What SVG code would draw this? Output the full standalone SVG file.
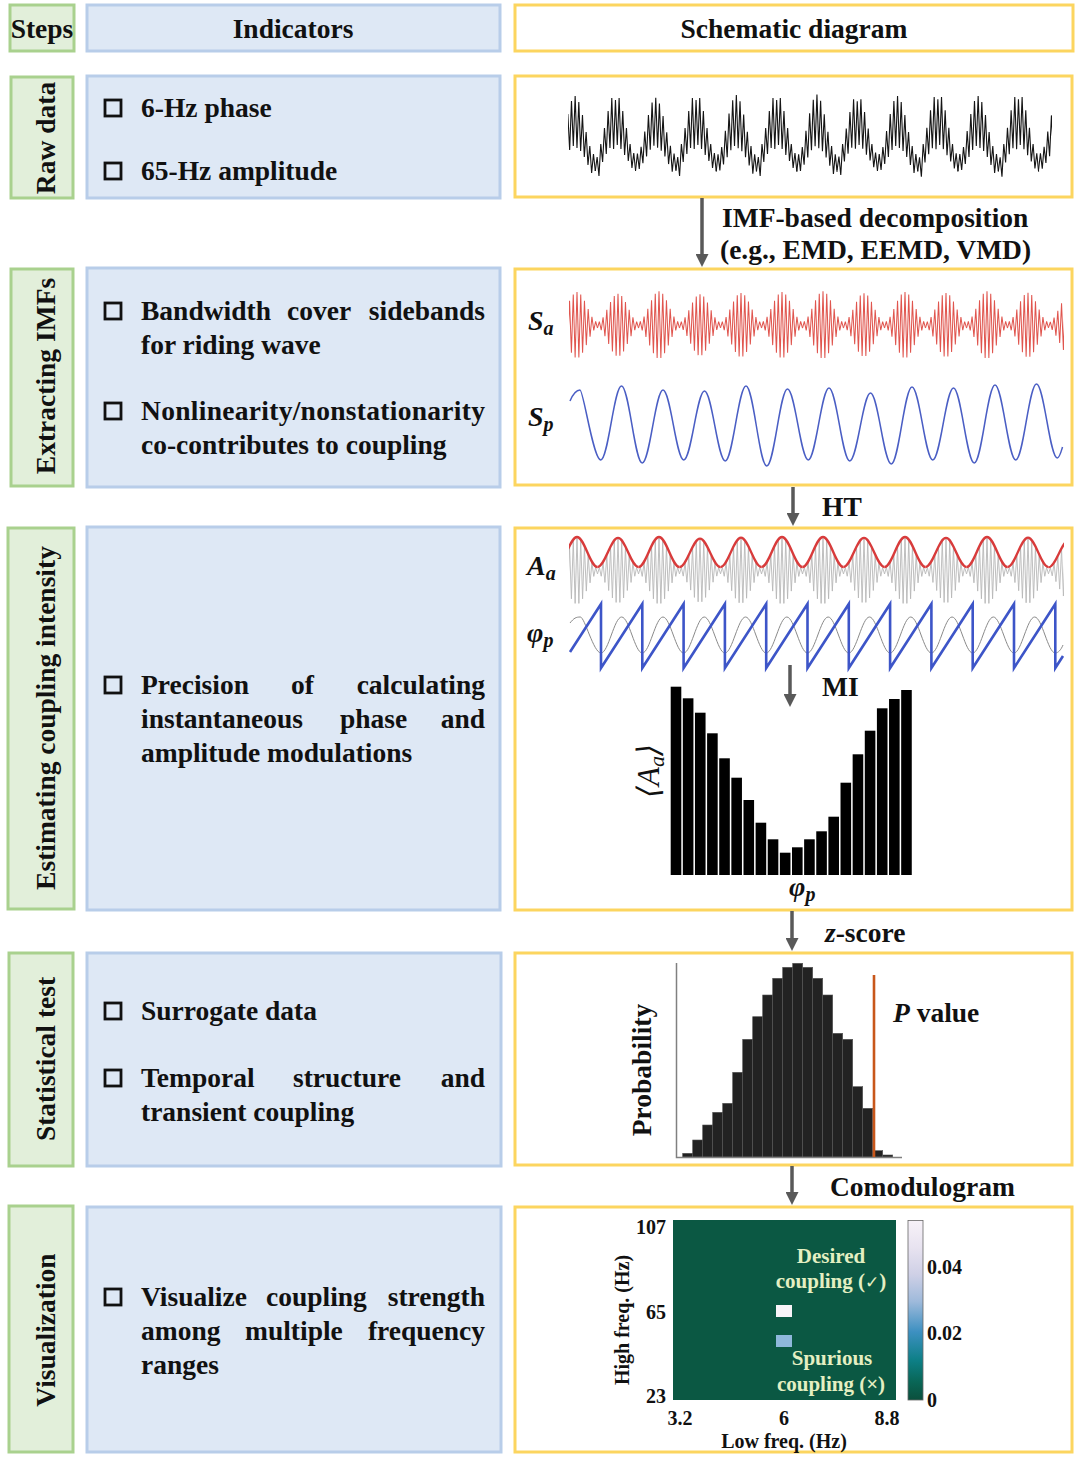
<svg xmlns="http://www.w3.org/2000/svg" width="1080" height="1457" viewBox="0 0 1080 1457">
<defs>
<style>
.g{fill:#e2efda;stroke:#a9d18e;stroke-width:3}
.b{fill:#dee8f5;stroke:#b8cde9;stroke-width:3}
.y{fill:#fff;stroke:#fcd55f;stroke-width:3}
.t{font-family:"Liberation Serif","Times New Roman",serif;font-weight:bold;font-size:27.5px;fill:#111}
.m{font-family:"Liberation Serif","Times New Roman","DejaVu Serif",serif;font-weight:bold;font-style:italic;font-size:28px;fill:#111}
.c{font-family:"Liberation Serif","Times New Roman",serif;font-weight:bold;font-size:20px;fill:#111}
.h{font-family:"Liberation Serif","Times New Roman","DejaVu Sans",serif;font-weight:bold;font-size:21px;fill:#e4efc2}
.k{fill:none;stroke:#111;stroke-width:2.8}
.ar{stroke:#595959;stroke-width:3.5;fill:none;marker-end:url(#ah)}
</style>
<marker id="ah" viewBox="0 0 13 13" refX="3" refY="6.5" markerWidth="13" markerHeight="13" markerUnits="userSpaceOnUse" orient="auto"><path d="M0,0 L13,6.5 L0,13 z" fill="#595959"/></marker>
<path id="rawA" d="M0,29 L1.82,12 3.64,28 5.45,5 7.27,22 9.09,-11 10.91,15 12.73,-28 14.55,8 16.36,-41 18.18,4 20,-46 21.82,6 23.64,-40 25.45,9 27.27,-27 29.09,15 30.91,-10 32.73,23 34.55,4 36.36,31 38.18,12 40,29"/>
<path id="rawB" d="M0,29 L1.82,15 3.64,34 5.45,2 7.27,20 9.09,-14 10.91,12 12.73,-31 14.55,6 16.36,-44 18.18,7 20,-42 21.82,3 23.64,-44 25.45,7 27.27,-31 29.09,13 30.91,-14 32.73,19 34.55,2 36.36,26 38.18,11 40,29"/>
<path id="sa" d="M0,3 L1.82,-3.6 3.64,5.4 5.45,-8.2 7.27,11.8 9.09,-15.9 10.91,20.1 12.73,-24.2 14.55,27.8 16.36,-30.6 18.18,32.4 20,-33 21.82,32.4 23.64,-30.6 25.45,27.8 27.27,-24.2 29.09,20.1 30.91,-15.9 32.73,11.8 34.55,-8.2 36.36,5.4 38.18,-3.6 40,3"/>
<path id="env" d="M0,-3 C7.2,-3 12.8,-33 20,-33 S32.8,-3 40,-3"/>
<clipPath id="cRaw"><rect x="568" y="80" width="484" height="115"/></clipPath>
<clipPath id="cSa"><rect x="569" y="285" width="495" height="80"/></clipPath>
<clipPath id="cAa"><rect x="569" y="528" width="495" height="82"/></clipPath>
<linearGradient id="cbar" x1="0" y1="0" x2="0" y2="1">
<stop offset="0" stop-color="#f7f2f8"/>
<stop offset="0.15" stop-color="#e8e3f0"/>
<stop offset="0.3" stop-color="#cfd0e6"/>
<stop offset="0.45" stop-color="#9fbadb"/>
<stop offset="0.62" stop-color="#3d90c1"/>
<stop offset="0.78" stop-color="#0d7f86"/>
<stop offset="0.9" stop-color="#096656"/>
<stop offset="1" stop-color="#0b4f3c"/>
</linearGradient>
</defs>
<rect width="1080" height="1457" fill="#fff"/>

<!-- header -->
<g id="hdr-steps"><rect class="g" x="10" y="5" width="64" height="46"/><text class="t" x="42" y="38" text-anchor="middle">Steps</text></g>
<g id="hdr-indicators"><rect class="b" x="87" y="5" width="413" height="46"/><text class="t" x="293" y="38" text-anchor="middle">Indicators</text></g>
<g id="hdr-schematic"><rect class="y" x="515" y="5" width="558" height="46"/><text class="t" x="794" y="38" text-anchor="middle">Schematic diagram</text></g>

<!-- row 1 -->
<g id="step-raw"><rect class="g" x="11" y="77" width="62" height="121"/><text class="t" transform="translate(55 138) rotate(-90)" text-anchor="middle">Raw data</text></g>
<g id="ind-raw"><rect class="b" x="87" y="76" width="413" height="122"/>
<rect class="k" x="105" y="100" width="16" height="16"/><text class="t" x="141" y="117">6-Hz phase</text>
<rect class="k" x="105" y="163" width="16" height="16"/><text class="t" x="141" y="180">65-Hz amplitude</text></g>
<g id="sch-raw"><rect class="y" x="515" y="76" width="557" height="121"/>
<g fill="none" stroke="#151515" stroke-width="1.1" clip-path="url(#cRaw)">
<use href="#rawA" transform="translate(555 142) scale(1.0075 1)"/>
<use href="#rawB" transform="translate(595.3 142) scale(1.0075 1)"/>
<use href="#rawA" transform="translate(635.6 142) scale(1.0075 0.96)"/>
<use href="#rawB" transform="translate(675.9 142) scale(1.0075 1)"/>
<use href="#rawA" transform="translate(716.2 142) scale(1.0075 1.02)"/>
<use href="#rawB" transform="translate(756.5 142) scale(1.0075 1)"/>
<use href="#rawA" transform="translate(796.8 142) scale(1.0075 1.03)"/>
<use href="#rawB" transform="translate(837.1 142) scale(1.0075 0.97)"/>
<use href="#rawA" transform="translate(877.4 142) scale(1.0075 1)"/>
<use href="#rawB" transform="translate(917.7 142) scale(1.0075 1.02)"/>
<use href="#rawA" transform="translate(958 142) scale(1.0075 1)"/>
<use href="#rawB" transform="translate(998.3 142) scale(1.0075 1.02)"/>
<use href="#rawA" transform="translate(1038.6 142) scale(1.0075 0.95)"/>
</g></g>

<!-- row 2 -->
<g id="step-imf"><rect class="g" x="11" y="269" width="62" height="217"/><text class="t" transform="translate(55 376) rotate(-90)" text-anchor="middle">Extracting IMFs</text></g>
<g id="ind-imf"><rect class="b" x="87" y="268" width="413" height="219"/>
<rect class="k" x="105" y="303" width="16" height="16"/>
<text class="t" x="141" y="320">Bandwidth</text><text class="t" x="287" y="320">cover</text><text class="t" x="485" y="320" text-anchor="end">sidebands</text>
<text class="t" x="141" y="354">for riding wave</text>
<rect class="k" x="105" y="403" width="16" height="16"/>
<text class="t" x="141" y="420" textLength="344" lengthAdjust="spacing">Nonlinearity/nonstationarity</text>
<text class="t" x="141" y="454">co-contributes to coupling</text></g>
<g id="sch-imf"><rect class="y" x="515" y="269" width="557" height="216"/>
<text class="m" x="528" y="330">S<tspan font-size="20" dy="5">a</tspan></text>
<text class="m" x="528" y="426">S<tspan font-size="20" dy="5">p</tspan></text>
<g fill="none" stroke="#e0554e" stroke-width="1" clip-path="url(#cSa)">
<use href="#sa" transform="translate(556.5 325) scale(1.025 1)"/>
<use href="#sa" transform="translate(597.5 325) scale(1.025 0.95)"/>
<use href="#sa" transform="translate(638.5 325) scale(1.025 1.02)"/>
<use href="#sa" transform="translate(679.5 325) scale(1.025 0.93)"/>
<use href="#sa" transform="translate(720.5 325) scale(1.025 0.97)"/>
<use href="#sa" transform="translate(761.5 325) scale(1.025 1)"/>
<use href="#sa" transform="translate(802.5 325) scale(1.025 1.02)"/>
<use href="#sa" transform="translate(843.5 325) scale(1.025 0.96)"/>
<use href="#sa" transform="translate(884.5 325) scale(1.025 1)"/>
<use href="#sa" transform="translate(925.5 325) scale(1.025 0.97)"/>
<use href="#sa" transform="translate(966.5 325) scale(1.025 1.02)"/>
<use href="#sa" transform="translate(1007.5 325) scale(1.025 0.98)"/>
<use href="#sa" transform="translate(1048.5 325) scale(1.025 0.9)"/>
</g>
<path fill="none" stroke="#4a5ec4" stroke-width="1.5" d="M570,401 C573,394 576.5,390 580,390 S593.25,460 600.75,460 S614,386 621.5,386 S634.75,463 642.25,463 S655.5,390 663,390 S676.25,460 683.75,460 S697,391 704.5,391 S717.75,461 725.25,461 S738.5,386 746,386 S759.25,466 766.75,466 S780,389 787.5,389 S800.75,460 808.25,460 S821.5,388 829,388 S842.25,461 849.75,461 S863,393 870.5,393 S883.75,464 891.25,464 S904.5,387 912,387 S925.25,460 932.75,460 S946,388 953.5,388 S966.75,463 974.25,463 S987.5,385 995,385 S1008.25,460 1015.75,460 S1029,384 1036.5,384 S1049.75,458 1057.25,458 C1059.5,458 1061,452 1062.5,447"/>
</g>

<!-- row 3 -->
<g id="step-est"><rect class="g" x="8" y="528" width="66" height="381"/><text class="t" transform="translate(55 718) rotate(-90)" text-anchor="middle">Estimating coupling intensity</text></g>
<g id="ind-est"><rect class="b" x="87" y="527" width="413" height="383"/>
<rect class="k" x="105" y="677" width="16" height="16"/>
<text class="t" x="141" y="694">Precision</text><text class="t" x="291" y="694">of</text><text class="t" x="485" y="694" text-anchor="end">calculating</text>
<text class="t" x="141" y="728">instantaneous</text><text class="t" x="340" y="728">phase</text><text class="t" x="485" y="728" text-anchor="end">and</text>
<text class="t" x="141" y="762">amplitude modulations</text></g>
<g id="sch-est"><rect class="y" x="515" y="528" width="557" height="382"/>
<text class="m" x="527" y="575">A<tspan font-size="20" dy="5">a</tspan></text>
<text class="m" x="527" y="642">φ<tspan font-size="20" dy="5">p</tspan></text>
<g fill="none" stroke="#b8b8b8" stroke-width="0.9" clip-path="url(#cAa)">
<use href="#sa" transform="translate(556.5 571) scale(1.025 1)"/>
<use href="#sa" transform="translate(597.5 571) scale(1.025 0.97)"/>
<use href="#sa" transform="translate(638.5 571) scale(1.025 1)"/>
<use href="#sa" transform="translate(679.5 571) scale(1.025 0.95)"/>
<use href="#sa" transform="translate(720.5 571) scale(1.025 0.98)"/>
<use href="#sa" transform="translate(761.5 571) scale(1.025 1)"/>
<use href="#sa" transform="translate(802.5 571) scale(1.025 1)"/>
<use href="#sa" transform="translate(843.5 571) scale(1.025 0.97)"/>
<use href="#sa" transform="translate(884.5 571) scale(1.025 1)"/>
<use href="#sa" transform="translate(925.5 571) scale(1.025 0.97)"/>
<use href="#sa" transform="translate(966.5 571) scale(1.025 1)"/>
<use href="#sa" transform="translate(1007.5 571) scale(1.025 0.98)"/>
<use href="#sa" transform="translate(1048.5 571) scale(1.025 0.9)"/>
</g>
<g fill="none" stroke="#d83b3b" stroke-width="2.3" clip-path="url(#cAa)">
<use href="#env" transform="translate(556.5 570) scale(1.025 1)"/>
<use href="#env" transform="translate(597.5 570) scale(1.025 0.97)"/>
<use href="#env" transform="translate(638.5 570) scale(1.025 1)"/>
<use href="#env" transform="translate(679.5 570) scale(1.025 0.95)"/>
<use href="#env" transform="translate(720.5 570) scale(1.025 0.98)"/>
<use href="#env" transform="translate(761.5 570) scale(1.025 1)"/>
<use href="#env" transform="translate(802.5 570) scale(1.025 1)"/>
<use href="#env" transform="translate(843.5 570) scale(1.025 0.97)"/>
<use href="#env" transform="translate(884.5 570) scale(1.025 1)"/>
<use href="#env" transform="translate(925.5 570) scale(1.025 0.97)"/>
<use href="#env" transform="translate(966.5 570) scale(1.025 1)"/>
<use href="#env" transform="translate(1007.5 570) scale(1.025 0.98)"/>
<use href="#env" transform="translate(1048.5 570) scale(1.025 0.9)"/>
</g>
<path fill="none" stroke="#8a8a8a" stroke-width="1" d="M570,623 C574,618 576,617 580.35,617 S593.6,653 601,653 S614.25,617 621.65,617 S634.9,653 642.3,653 S655.55,617 662.95,617 S676.2,653 683.6,653 S696.85,617 704.25,617 S717.5,653 724.9,653 S738.15,617 745.55,617 S758.8,653 766.2,653 S779.45,617 786.85,617 S800.1,653 807.5,653 S820.75,617 828.15,617 S841.4,653 848.8,653 S862.05,617 869.45,617 S882.7,653 890.1,653 S903.35,617 910.75,617 S924,653 931.4,653 S944.65,617 952.05,617 S965.3,653 972.7,653 S985.95,617 993.35,617 S1006.6,653 1014,653 S1027.25,617 1034.65,617 S1047.9,653 1055.3,653 C1058,653 1061,650 1063,645"/>
<path fill="none" stroke="#3d55c8" stroke-width="2.6" d="M570,652 L601,604 601,668 642.3,604 642.3,668 683.6,604 683.6,668 724.9,604 724.9,668 766.2,604 766.2,668 807.5,604 807.5,668 848.8,604 848.8,668 890.1,604 890.1,668 931.4,604 931.4,668 972.7,604 972.7,668 1014,604 1014,668 1055.3,604 1055.3,668 1063,656"/>
<g fill="#000">
<rect x="670.7" y="686.7" width="10.6" height="188.3"/>
<rect x="682.83" y="698.3" width="10.6" height="176.7"/>
<rect x="694.96" y="712.7" width="10.6" height="162.3"/>
<rect x="707.09" y="733.3" width="10.6" height="141.7"/>
<rect x="719.22" y="758.3" width="10.6" height="116.7"/>
<rect x="731.35" y="777.7" width="10.6" height="97.3"/>
<rect x="743.48" y="800" width="10.6" height="75"/>
<rect x="755.61" y="822.7" width="10.6" height="52.3"/>
<rect x="767.74" y="839.3" width="10.6" height="35.7"/>
<rect x="779.87" y="852.7" width="10.6" height="22.3"/>
<rect x="792" y="847.3" width="10.6" height="27.7"/>
<rect x="804.13" y="839.3" width="10.6" height="35.7"/>
<rect x="816.26" y="831.3" width="10.6" height="43.7"/>
<rect x="828.39" y="816.7" width="10.6" height="58.3"/>
<rect x="840.52" y="782.7" width="10.6" height="92.3"/>
<rect x="852.65" y="754.3" width="10.6" height="120.7"/>
<rect x="864.78" y="730.7" width="10.6" height="144.3"/>
<rect x="876.91" y="708.3" width="10.6" height="166.7"/>
<rect x="889.04" y="699" width="10.6" height="176"/>
<rect x="901.17" y="690" width="10.6" height="185"/>
</g>
<text font-family="Liberation Serif, DejaVu Serif, serif" font-style="italic" font-size="31" fill="#111" transform="translate(659 771) rotate(-90)" text-anchor="middle">⟨A<tspan font-size="22" dy="5">a</tspan><tspan dy="-5">⟩</tspan></text>
<text class="m" x="789" y="896">φ<tspan font-size="20" dy="5">p</tspan></text>
</g>

<!-- row 4 -->
<g id="step-stat"><rect class="g" x="9" y="953" width="64" height="213"/><text class="t" transform="translate(55 1059) rotate(-90)" text-anchor="middle">Statistical test</text></g>
<g id="ind-stat"><rect class="b" x="87" y="953" width="414" height="213"/>
<rect class="k" x="105" y="1003" width="16" height="16"/>
<text class="t" x="141" y="1020">Surrogate data</text>
<rect class="k" x="105" y="1070" width="16" height="16"/>
<text class="t" x="141" y="1087">Temporal</text><text class="t" x="293" y="1087">structure</text><text class="t" x="485" y="1087" text-anchor="end">and</text>
<text class="t" x="141" y="1121">transient coupling</text></g>
<g id="sch-stat"><rect class="y" x="515" y="953" width="557" height="212"/>
<g fill="#222" stroke="#555" stroke-width="0.6">
<rect x="682.7" y="1153.3" width="10" height="3.7"/>
<rect x="692.7" y="1140" width="10" height="17"/>
<rect x="702.7" y="1125" width="10" height="32"/>
<rect x="712.7" y="1112.3" width="10" height="44.7"/>
<rect x="722.7" y="1103.3" width="10" height="53.7"/>
<rect x="732.7" y="1072.3" width="10" height="84.7"/>
<rect x="742.7" y="1039.3" width="10" height="117.7"/>
<rect x="752.7" y="1016.7" width="10" height="140.3"/>
<rect x="762.7" y="995" width="10" height="162"/>
<rect x="772.7" y="978.3" width="10" height="178.7"/>
<rect x="782.7" y="967.3" width="10" height="189.7"/>
<rect x="792.7" y="963.3" width="10" height="193.7"/>
<rect x="802.7" y="967.3" width="10" height="189.7"/>
<rect x="812.7" y="978.3" width="10" height="178.7"/>
<rect x="822.7" y="995" width="10" height="162"/>
<rect x="832.7" y="1033.3" width="10" height="123.7"/>
<rect x="842.7" y="1039.3" width="10" height="117.7"/>
<rect x="852.7" y="1086.7" width="10" height="70.3"/>
<rect x="862.7" y="1108.3" width="10" height="48.7"/>
<rect x="872.7" y="1150.7" width="10" height="6.3"/>
<rect x="882.7" y="1155" width="10" height="2"/>
</g>
<path d="M676.5,963 V1157.5 H902" fill="none" stroke="#808080" stroke-width="1.5"/>
<line x1="874" y1="975" x2="874" y2="1157" stroke="#c8571b" stroke-width="2.6"/>
<text class="t" transform="translate(651 1070) rotate(-90)" text-anchor="middle">Probability</text>
<text class="t" x="893" y="1022"><tspan font-style="italic">P</tspan> value</text>
</g>

<!-- row 5 -->
<g id="step-vis"><rect class="g" x="9" y="1206" width="64" height="246"/><text class="t" transform="translate(55 1330) rotate(-90)" text-anchor="middle">Visualization</text></g>
<g id="ind-vis"><rect class="b" x="87" y="1207" width="414" height="245"/>
<rect class="k" x="105" y="1289" width="16" height="16"/>
<text class="t" x="141" y="1306">Visualize</text><text class="t" x="266" y="1306">coupling</text><text class="t" x="485" y="1306" text-anchor="end">strength</text>
<text class="t" x="141" y="1340">among</text><text class="t" x="245" y="1340">multiple</text><text class="t" x="485" y="1340" text-anchor="end">frequency</text>
<text class="t" x="141" y="1374">ranges</text></g>
<g id="sch-vis"><rect class="y" x="515" y="1207" width="557" height="245"/>
<rect x="673" y="1220" width="223" height="180" fill="#0b5843"/>
<rect x="776" y="1305" width="16" height="12" fill="#f8f4f8"/>
<rect x="776" y="1335" width="16" height="12" fill="#8fb8db"/>
<text class="h" x="831" y="1263" text-anchor="middle">Desired</text>
<text class="h" x="831" y="1288" text-anchor="middle">coupling (<tspan font-family="DejaVu Sans, sans-serif" font-size="17">✓</tspan>)</text>
<text class="h" x="832" y="1365" text-anchor="middle">Spurious</text>
<text class="h" x="831" y="1391" text-anchor="middle">coupling (×)</text>
<rect x="908" y="1220.5" width="15" height="179.5" fill="url(#cbar)" stroke="#666" stroke-width="0.8"/>
<text class="c" x="666" y="1234" text-anchor="end">107</text>
<text class="c" x="666" y="1319" text-anchor="end">65</text>
<text class="c" x="666" y="1403" text-anchor="end">23</text>
<text class="c" x="680" y="1425" text-anchor="middle">3.2</text>
<text class="c" x="784" y="1425" text-anchor="middle">6</text>
<text class="c" x="887" y="1425" text-anchor="middle">8.8</text>
<text class="c" x="784" y="1448" text-anchor="middle">Low freq. (Hz)</text>
<text class="c" transform="translate(629 1320) rotate(-90)" text-anchor="middle">High freq. (Hz)</text>
<text class="c" x="927" y="1274">0.04</text>
<text class="c" x="927" y="1340">0.02</text>
<text class="c" x="927" y="1407">0</text>
</g>

<!-- connectors -->
<g id="connectors">
<path class="ar" d="M702,198 V257"/>
<text class="t" x="722" y="227">IMF-based decomposition</text>
<text class="t" x="720" y="259">(e.g., EMD, EEMD, VMD)</text>
<path class="ar" d="M793,487 V516"/>
<text class="t" x="822" y="516">HT</text>
<path class="ar" d="M790,665 V697"/>
<text class="t" x="822" y="696">MI</text>
<path class="ar" d="M792,911 V941"/>
<text class="t" x="825" y="942"><tspan font-style="italic">z</tspan>-score</text>
<path class="ar" d="M792,1166 V1195"/>
<text class="t" x="830" y="1196">Comodulogram</text>
</g>
</svg>
